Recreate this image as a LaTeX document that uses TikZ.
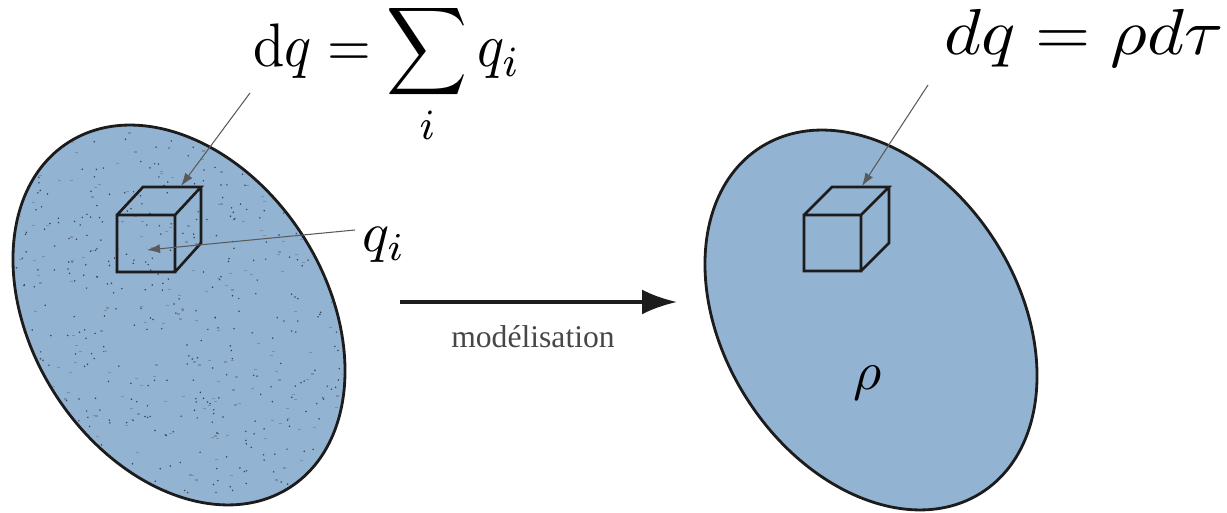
\documentclass[tikz,border=0pt]{standalone}
\usepackage{amsmath}
\usepackage{fontspec}
\newfontfamily\legende{Liberation Serif}
\usetikzlibrary{arrows.meta}
\definecolor{bleu}{HTML}{93B3D2}
\definecolor{trait}{HTML}{1C1C1C}
\definecolor{fleche}{HTML}{5A5A5A}
\definecolor{grain}{HTML}{3A4656}
\definecolor{grainc}{HTML}{7D8FA6}
\definecolor{gris}{HTML}{474747}
\tikzset{
  corps/.style={draw=trait,line width=1.6pt},
  arete/.style={draw=trait,line width=1.5pt,line join=miter},
  fin/.style={-{Latex[length=2.6mm,width=1.8mm]},fleche,line width=0.6pt},
  modele/.style={-{Latex[length=7mm,width=5mm]},trait,line width=2.2pt},
  formule/.style={inner sep=0pt},
}

\begin{document}
\begin{tikzpicture}[x=0.02cm,y=0.02cm]
  \useasboundingbox (0,0) rectangle (1227,513);
  % corps discret, charges ponctuelles
  \fill[bleu,rotate around={-57.3:(179,198)}] (179,198) ellipse [x radius=205,y radius=147];
  \begin{scope}
    \clip[rotate around={-57.3:(179,198)}] (179,198) ellipse [x radius=203,y radius=145];
    \pgfmathsetseed{11}
    \foreach \k in {1,...,520}
      \fill[grain] (179+190*rand,198+200*rand) circle (0.85);
    \foreach \k in {1,...,260}
      \fill[grainc] (179+190*rand,198+200*rand) rectangle ++(3,1.2);
  \end{scope}
  \draw[corps,rotate around={-57.3:(179,198)}] (179,198) ellipse [x radius=205,y radius=147];
  % corps continu
  \draw[corps,fill=bleu,rotate around={-57.3:(871,193)}] (871,193) ellipse [x radius=205,y radius=147];
  % petits cubes
  \draw[arete] (117,241) rectangle (175,298) (117,298) -- (143,326) -- (201,326) -- (175,298)
    (201,326) -- (201,270) -- (175,241);
  \draw[arete] (804,242) rectangle (861,298) (804,298) -- (832,326) -- (889,326) -- (861,298)
    (889,326) -- (889,270) -- (861,242);
  % textes
  \node[formule,anchor=base west,xscale=3.2,yscale=3.5] (somme) at (252,446)
    {$\displaystyle \mathrm{d}q=\sum_i q_i$};
  \node[formule,scale=3.2] (charge) at (384,268) {$q_i$};
  \node[formule,anchor=base west,xscale=4.05,yscale=3.7] (densite) at (943,458) {$dq=\rho d\tau$};
  \node[formule,scale=3.1] (rho) at (868,130) {$\rho$};
  \node[gris,font=\legende\fontsize{18}{20}\selectfont] (modelisation) at (533,176) {modélisation};
  % fleches
  \coordinate (departL) at (250,420);
  \coordinate (cubeL) at (181,327);
  \coordinate (departQ) at (355,283);
  \coordinate (centreL) at (147,263);
  \coordinate (departR) at (928,428);
  \coordinate (cubeR) at (862,327);
  \coordinate (gauche) at (400,211);
  \coordinate (droite) at (677,211);
  \draw[fin] (departL) -- (cubeL);
  \draw[fin] (departQ) -- (centreL);
  \draw[fin] (departR) -- (cubeR);
  \draw[modele] (gauche) -- (droite);
\end{tikzpicture}
\end{document}
